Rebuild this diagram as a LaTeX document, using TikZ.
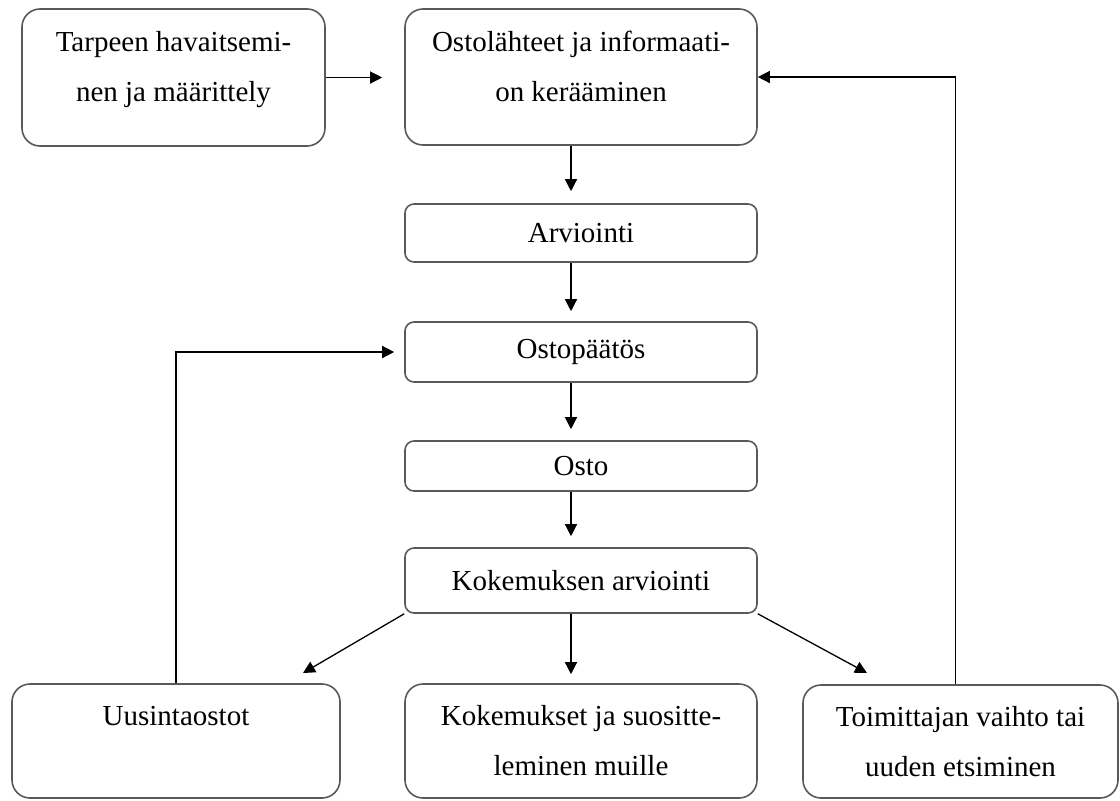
\documentclass[tikz,border=0pt]{standalone}
\usepackage{fontspec}
\setmainfont{Liberation Serif}
\usetikzlibrary{positioning}
\usetikzlibrary{arrows.meta}
\tikzset{box/.style={draw=black!65,line width=1.6pt,rounded corners=18pt,align=center,inner sep=0pt,font=\fontsize{29}{50}\selectfont},
         smallbox/.style={box,rounded corners=9pt},
         flow/.style={line width=1.3pt,-{Triangle[length=12pt,width=12pt]}}}

\begin{document}
\begin{tikzpicture}[x=1pt,y=-1pt] %像素坐标, y 向下
            \useasboundingbox (0,0) rectangle (1120,801);
            \node[box,minimum width=303pt,minimum height=137pt,text depth=22pt] (tarve) at (173.5,77.5) {Tarpeen havaitsemi-\\nen ja määrittely};
            \node[box,minimum width=352pt,minimum height=136pt,text depth=22pt] (lahteet) at (581,77) {Ostolähteet ja informaati-\\on kerääminen};
            \node[smallbox,minimum width=352pt,minimum height=58pt] (arvio) at (581,233) {Arviointi};
            \node[smallbox,minimum width=352pt,minimum height=60pt] (paatos) at (581,352) {Ostopäätös};
            \node[smallbox,minimum width=352pt,minimum height=50pt] (osto) at (581,466) {Osto};
            \node[smallbox,minimum width=352pt,minimum height=65pt] (kokarvio) at (581,580.5) {Kokemuksen arviointi};
            \node[box,minimum width=328pt,minimum height=114pt] (uusinta) at (176,741) {Uusintaostot\\\mbox{}};
            \node[box,minimum width=352pt,minimum height=114pt] (suositus) at (581,741) {Kokemukset ja suositte-\\leminen muille};
            \node[box,minimum width=315pt,minimum height=113pt] (vaihto) at (960.5,741.5) {Toimittajan vaihto tai\\uuden etsiminen};
            \coordinate (uusintakarki) at (303,673);
            \coordinate (vaihtokarki) at (867,673);
            \draw[flow,shorten >=22pt] (tarve.east) -- (tarve.east -| lahteet.west);
            \draw[flow,shorten >=12pt] ([xshift=-10pt]lahteet.south) -- ([xshift=-10pt]arvio.north);
            \draw[flow,shorten >=10pt] ([xshift=-10pt]arvio.south) -- ([xshift=-10pt]paatos.north);
            \draw[flow,shorten >=11pt] ([xshift=-10pt]paatos.south) -- ([xshift=-10pt]osto.north);
            \draw[flow,shorten >=11pt] ([xshift=-10pt]osto.south) -- ([xshift=-10pt]kokarvio.north);
            \draw[flow,shorten >=9pt] ([xshift=-10pt]kokarvio.south) -- ([xshift=-10pt]suositus.north);
            \draw[flow] (kokarvio.south west) -- (uusintakarki);
            \draw[flow] (kokarvio.south east) -- (vaihtokarki);
            \draw[flow,shorten >=10pt] (uusinta.north) |- (paatos.west);
            \draw[flow] ([xshift=-5pt]vaihto.north) |- (lahteet.east);
\end{tikzpicture}
\end{document}
